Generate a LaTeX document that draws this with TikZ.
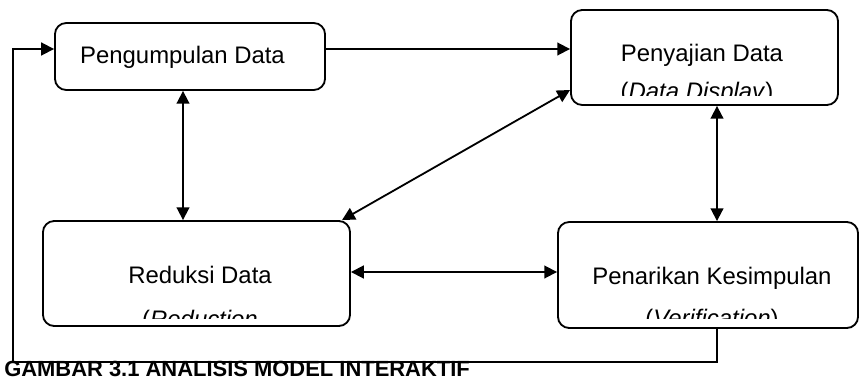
\documentclass[tikz,border=0pt]{standalone}
\usepackage{fontspec}
\setmainfont{Liberation Sans}
\usetikzlibrary{arrows.meta, positioning}

\begin{document}
\begin{tikzpicture}[
  x=0.025cm, y=-0.025cm,
  >={Triangle[length=3.2mm, width=3.2mm]},
  box/.style={
    rectangle, rounded corners=8pt, draw=black, line width=1.3pt,
    inner sep=0pt
  },
  lbl/.style={font=\fontsize{17}{20}\selectfont, inner sep=0pt, anchor=base},
  arr/.style={->, line width=1.3pt},
  darr/.style={<->, line width=1.3pt},
]
\useasboundingbox (0,0) rectangle (859,380);

% boxes
\node[box, minimum width=6.75cm,  minimum height=1.675cm] (b1) at (190,56.5) {};
\node[box, minimum width=6.675cm, minimum height=2.375cm] (b2) at (704.5,57.5) {};
\node[box, minimum width=7.675cm, minimum height=2.625cm] (b3) at (196.5,273.5) {};
\node[box, minimum width=7.5cm,   minimum height=2.65cm]  (b4) at (708,275) {};

% box texts
\node[lbl] (t1)  at (182.5,64) {Pengumpulan Data};
\node[lbl] (t2)  at (702,62)   {Penyajian Data};
\node[lbl] (t3)  at (200,283)  {Reduksi Data};
\node[lbl] (t4)  at (712,284)  {Penarikan Kesimpulan};

% second lines, cut off by the text frame
\begin{scope}
  \clip (b2.north west) rectangle (b2.east |- 0,96);
  \node[lbl] (t2b) at (697,100) {(\textit{Data Display})};
\end{scope}
\begin{scope}
  \clip (b3.north west) rectangle (b3.east |- 0,318);
  \node[lbl] (t3b) at (200,327.5) {(\textit{Reduction}};
\end{scope}
\begin{scope}
  \clip (b4.north west) rectangle (b4.east |- 0,318);
  \node[lbl] (t4b) at (712,326.5) {(\textit{Verification})};
\end{scope}

% connectors
\draw[arr]  (b1.east |- 0,49) -- (b2.west |- 0,49);
\draw[darr] (b1.south -| 183,0) -- (b3.north -| 183,0);
\draw[darr] (b3.north -| 342,0) -- (b2.west |- 0,90);
\draw[darr] (b2.south -| 717,0) -- (b4.north -| 717,0);
\draw[darr] (b3.east |- 0,272) -- (b4.west |- 0,272);

% feedback loop
\coordinate (fbA) at (717,362);
\coordinate (fbB) at (13,362);
\coordinate (fbC) at (13,49);
\draw[arr] (b4.south -| fbA) -- (fbA) -- (fbB) -- (fbC) -- (b1.west |- fbC);

% caption
\node[font=\fontsize{15.6}{18}\selectfont\bfseries, inner sep=0pt, anchor=base west]
  (cap) at (4,376.5) {GAMBAR 3.1 ANALISIS MODEL INTERAKTIF};

\end{tikzpicture}
\end{document}
